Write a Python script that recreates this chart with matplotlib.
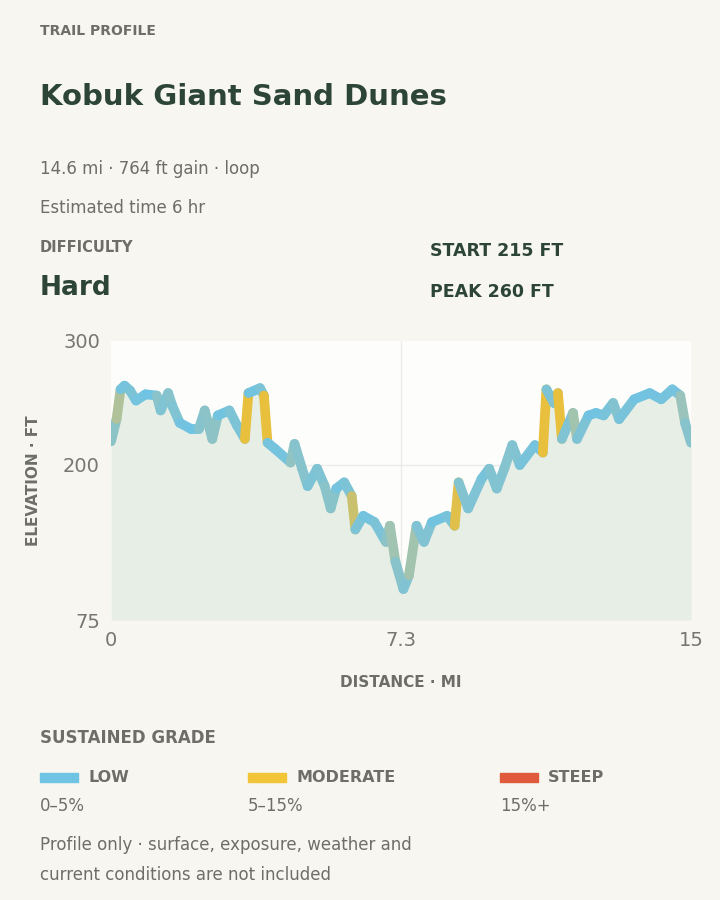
import numpy as np
import matplotlib
matplotlib.use("Agg")
import matplotlib.pyplot as plt
from matplotlib.collections import LineCollection
from matplotlib.colors import LinearSegmentedColormap

dist = [0,0.14,0.24,0.34,0.48,0.63,0.87,1.15,1.25,1.44,1.54,1.73,2.02,2.21,2.36,2.55,2.69,2.98,3.17,3.37,3.46,3.75,3.85,3.94,4.13,4.52,4.62,4.81,4.95,5.19,5.38,5.53,5.67,5.87,6.06,6.15,6.35,6.63,6.92,7.02,7.16,7.36,7.50,7.69,7.88,8.08,8.46,8.65,8.75,8.99,9.33,9.52,9.71,9.90,10.10,10.29,10.67,10.87,10.96,11.15,11.25,11.35,11.63,11.73,12.02,12.21,12.40,12.64,12.79,13.17,13.56,13.85,14.13,14.33,14.45,14.6]
elev = [219,237,261,264,260,252,257,256,244,258,248,234,229,229,244,221,240,244,232,221,258,262,256,218,213,202,217,197,183,197,183,165,181,186,175,148,159,154,138,151,122,100,111,151,138,154,159,151,186,165,189,197,181,197,216,200,216,210,261,250,258,221,242,221,240,242,240,250,237,253,258,253,261,256,234,218]
xticks = [0, 7.3, 14.6]
xticklabels = ["0", "7.3", "15"]
yticks = [75, 200, 300]

BG = "#f7f6f1"; DARK = "#2d4536"; GREY = "#6e6e68"; LGREY = "#777770"
fig = plt.figure(figsize=(7.2, 9), dpi=100, facecolor=BG)
ax = fig.add_axes([111/720, 1-620/900, 580/720, 279/900])
ax.set_facecolor("#fdfdfb")
ax.set_xlim(0, 14.6); ax.set_ylim(75, 300)
d = np.array(dist); e = np.array(elev)
ax.fill_between(d, e, 75, color="#e6eee6", lw=0, zorder=1)
grade = np.abs(np.diff(e)) / (np.diff(d) * 5280) * 100
cmap = LinearSegmentedColormap.from_list("g", [(0, "#6fc3e3"), (0.35, "#9cc3b8"), (0.66, "#e8c03e"), (1, "#e05a3c")], N=256)
vals = np.clip(grade / 7.0, 0, 1) * 0.66
pts = np.column_stack([d, e]).reshape(-1, 1, 2)
segs = np.concatenate([pts[:-1], pts[1:]], axis=1)
lc = LineCollection(segs, colors=cmap(vals), linewidths=7, capstyle="round", joinstyle="round", zorder=3)
ax.add_collection(lc)
ax.set_xticks(xticks); ax.set_xticklabels(xticklabels)
ax.set_yticks(yticks)
ax.tick_params(length=0, labelsize=14, labelcolor=LGREY, pad=8)
ax.grid(False)
ax.axvline(7.3, color="#ececea", lw=1, zorder=0.5)
ax.axhline(200, color="#ececea", lw=1, zorder=0.5)
for s in ax.spines.values():
    s.set_visible(False)
ax.set_xlabel("DISTANCE · MI", fontsize=11, fontweight="bold", color=GREY, labelpad=18)
ax.set_ylabel("ELEVATION · FT", fontsize=11, fontweight="bold", color=GREY, labelpad=16)

def T(x, y, s, **kw):
    fig.text(x/720, 1-y/900, s, va="center", ha="left", **kw)

T(40, 31, "TRAIL PROFILE", fontsize=10, fontweight="bold", color=GREY)
T(40, 97, "Kobuk Giant Sand Dunes", fontsize=21, fontweight="bold", color=DARK)
T(40, 169, "14.6 mi · 764 ft gain · loop", fontsize=12, color=GREY)
T(40, 208, "Estimated time 6 hr", fontsize=12, color=GREY)
T(40, 248, "DIFFICULTY", fontsize=10.5, fontweight="bold", color=GREY)
T(40, 288, "Hard", fontsize=19, fontweight="bold", color=DARK)
T(430, 251, "START 215 FT", fontsize=12.5, fontweight="bold", color=DARK)
T(430, 292, "PEAK 260 FT", fontsize=12.5, fontweight="bold", color=DARK)
T(40, 738, "SUSTAINED GRADE", fontsize=12, fontweight="bold", color=GREY)
for x0, col, lab, sub in [(40, "#6fc3e3", "LOW", "0–5%"), (248, "#f2c438", "MODERATE", "5–15%"), (500, "#e05a3c", "STEEP", "15%+")]:
    fig.patches.append(plt.Rectangle((x0/720, 1-782/900), 38/720, 9/900, transform=fig.transFigure, color=col, figure=fig))
    T(x0+48, 777, lab, fontsize=11.5, fontweight="bold", color=GREY)
    T(x0, 806, sub, fontsize=12, color=GREY)
T(40, 845, "Profile only · surface, exposure, weather and", fontsize=12, color=GREY)
T(40, 875, "current conditions are not included", fontsize=12, color=GREY)
fig.savefig("out.png", dpi=100, facecolor=BG)
